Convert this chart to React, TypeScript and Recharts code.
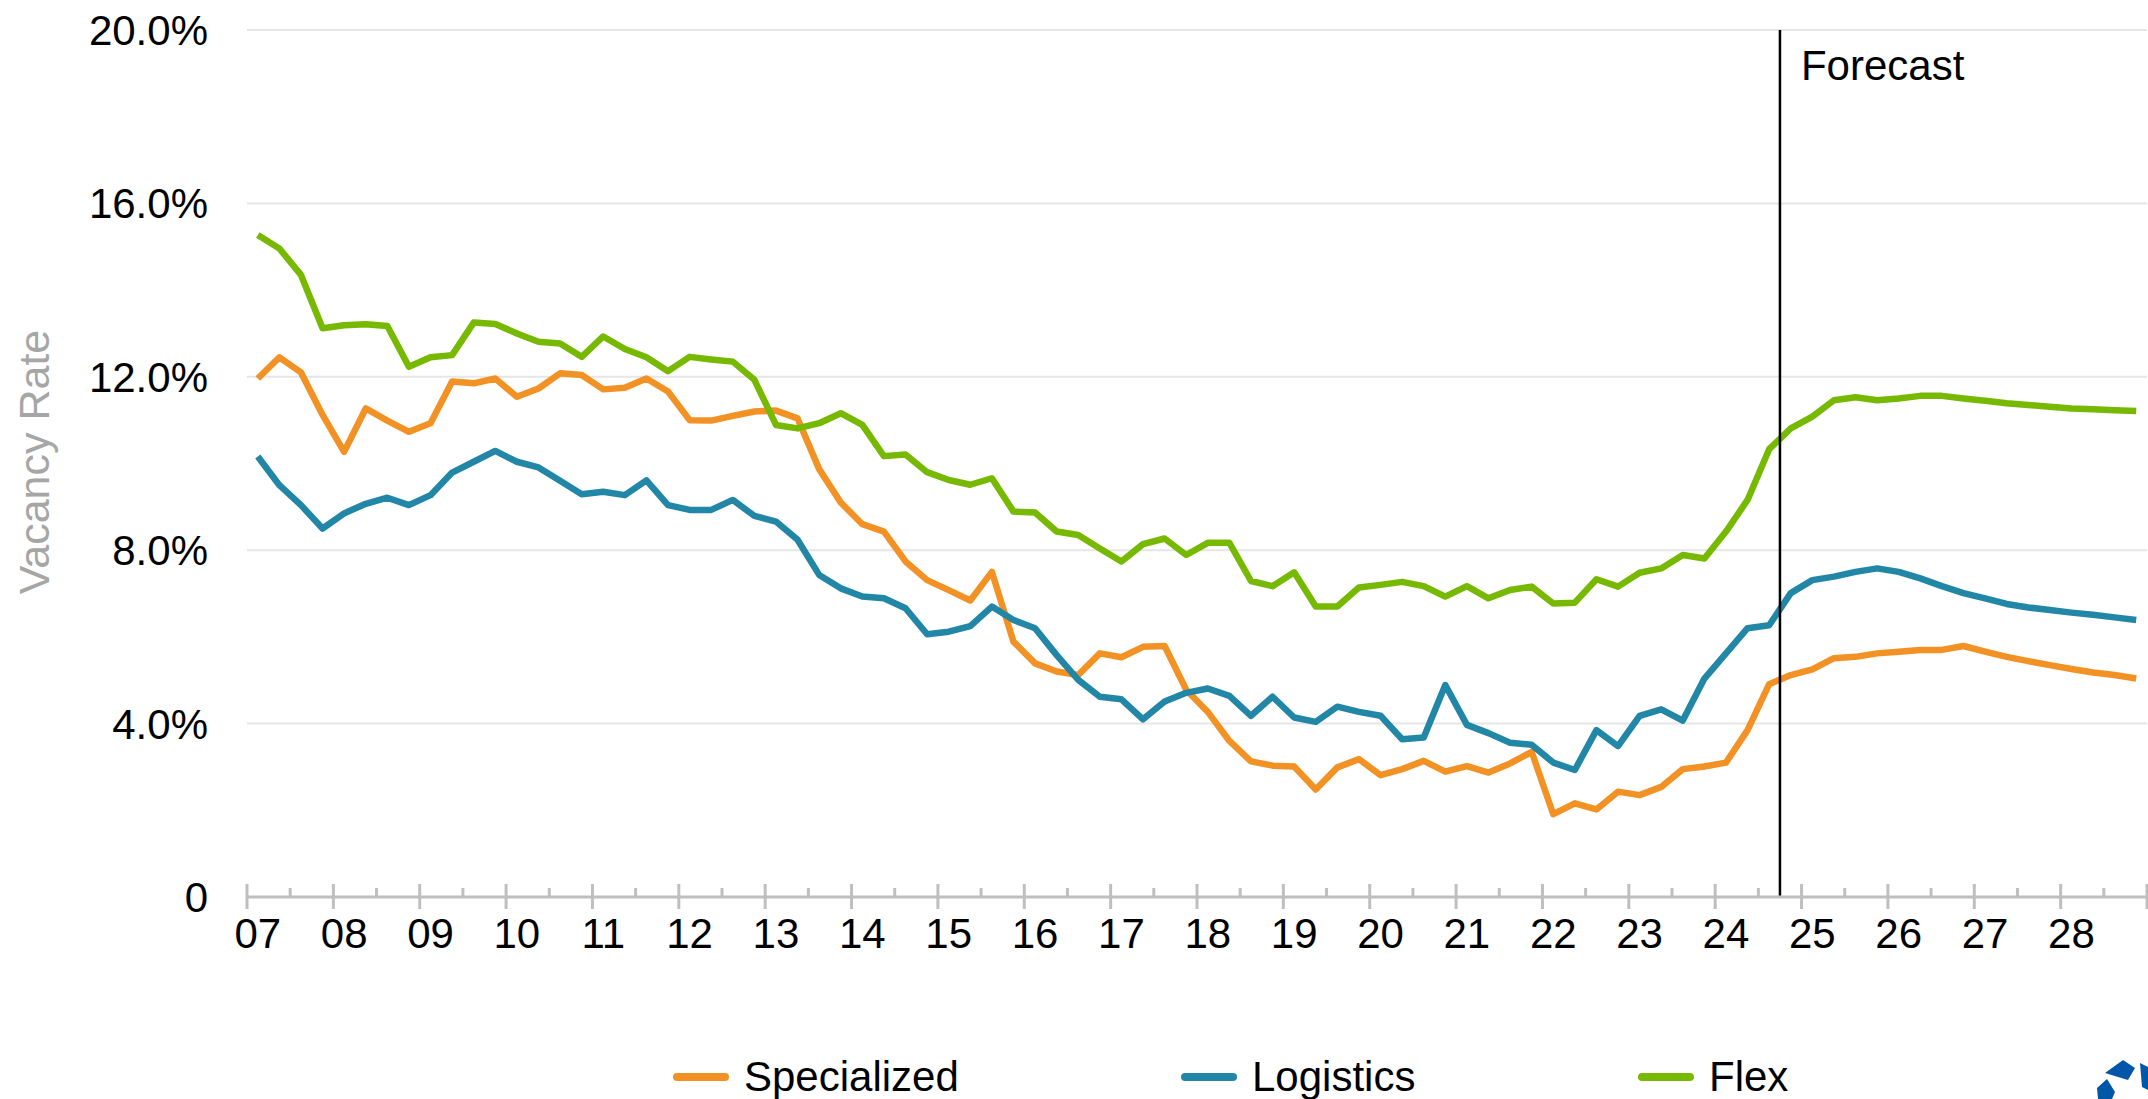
import React from 'react';
import { LineChart, Line, XAxis, YAxis, CartesianGrid, ReferenceLine } from 'recharts';

// quarterly vacancy rates, 2007 Q1 .. 2028 Q4 (forecast from 2024 Q4)
const specialized = [
  11.96, 12.45, 12.10, 11.12, 10.27, 11.27, 10.99, 10.73, 10.93, 11.89, 11.85, 11.96, 11.54, 11.73, 12.08, 12.04,
  11.71, 11.75, 11.96, 11.66, 11.00, 10.99, 11.10, 11.20, 11.22, 11.04, 9.87, 9.10, 8.60, 8.43, 7.74, 7.31,
  7.08, 6.84, 7.50, 5.89, 5.39, 5.20, 5.12, 5.62, 5.53, 5.77, 5.79, 4.78, 4.27, 3.60, 3.13, 3.03,
  3.01, 2.48, 2.99, 3.18, 2.81, 2.95, 3.14, 2.89, 3.02, 2.87, 3.08, 3.35, 1.91, 2.16, 2.02, 2.43,
  2.35, 2.54, 2.95, 3.01, 3.10, 3.85, 4.91, 5.12, 5.25, 5.51, 5.54, 5.62, 5.66, 5.70, 5.70, 5.79,
  5.66, 5.54, 5.44, 5.35, 5.26, 5.18, 5.12, 5.04,
];

const logistics = [
  10.16, 9.50, 9.04, 8.50, 8.85, 9.07, 9.21, 9.04, 9.27, 9.79, 10.04, 10.29, 10.04, 9.91, 9.60, 9.29,
  9.35, 9.27, 9.61, 9.04, 8.93, 8.93, 9.16, 8.79, 8.66, 8.24, 7.43, 7.12, 6.93, 6.89, 6.66, 6.06,
  6.12, 6.25, 6.70, 6.39, 6.20, 5.58, 5.01, 4.62, 4.56, 4.10, 4.51, 4.71, 4.81, 4.64, 4.18, 4.62,
  4.14, 4.04, 4.39, 4.27, 4.18, 3.64, 3.68, 4.89, 3.97, 3.78, 3.56, 3.51, 3.10, 2.93, 3.85, 3.48,
  4.18, 4.33, 4.07, 5.04, 5.62, 6.20, 6.27, 7.01, 7.31, 7.39, 7.50, 7.58, 7.50, 7.35, 7.17, 7.01,
  6.89, 6.76, 6.68, 6.62, 6.56, 6.51, 6.45, 6.39,
];

const flex = [
  15.27, 14.96, 14.35, 13.12, 13.19, 13.21, 13.17, 12.23, 12.45, 12.50, 13.25, 13.22, 13.00, 12.81, 12.77, 12.46,
  12.93, 12.64, 12.45, 12.13, 12.46, 12.40, 12.35, 11.93, 10.89, 10.81, 10.93, 11.16, 10.89, 10.17, 10.21, 9.80,
  9.62, 9.51, 9.66, 8.89, 8.87, 8.43, 8.35, 8.04, 7.74, 8.14, 8.27, 7.89, 8.17, 8.17, 7.29, 7.17,
  7.49, 6.70, 6.70, 7.14, 7.20, 7.27, 7.17, 6.93, 7.17, 6.89, 7.08, 7.16, 6.77, 6.79, 7.33, 7.16,
  7.48, 7.58, 7.89, 7.81, 8.43, 9.16, 10.33, 10.81, 11.08, 11.46, 11.53, 11.46, 11.50, 11.56, 11.56, 11.50,
  11.45, 11.39, 11.35, 11.31, 11.27, 11.25, 11.23, 11.21,
];

const years = ['07', '08', '09', '10', '11', '12', '13', '14', '15', '16', '17', '18', '19', '20', '21', '22', '23', '24', '25', '26', '27', '28'];
const yTicks = [0, 4, 8, 12, 16, 20];
const forecastStart = 71; // quarter index where forecast begins

const series = [
  { key: 'specialized', name: 'Specialized', color: '#F39224' },
  { key: 'logistics', name: 'Logistics', color: '#2287A6' },
  { key: 'flex', name: 'Flex', color: '#76B900' },
];

const data = specialized.map((v, i) => ({
  q: i + 0.5,
  specialized: v,
  logistics: logistics[i],
  flex: flex[i],
}));

const W = 2148;
const H = 1099;
const Y_AXIS_W = 247;
const MARGIN_RIGHT = 1;
const X_AXIS_H = 60;
const NQ = years.length * 4;
const QPX = (W - Y_AXIS_W - MARGIN_RIGHT) / NQ;
const FONT = '"Liberation Sans", Arial, sans-serif';
const FS = 42;
const AXIS_GRAY = '#bfbfbf';
const LEGEND_LEFT = [673, 1181, 1638];

const XTick = (props: any) => {
  const { x, y, payload } = props;
  const v = payload.value;
  const major = v % 4 === 0;
  const label = major && v < NQ ? years[v / 4] : null;
  return (
    <g>
      {major ? (
        <line x1={x} x2={x} y1={y - 13} y2={y + 12} stroke={AXIS_GRAY} strokeWidth={3} />
      ) : (
        <line x1={x} x2={x} y1={y - 9} y2={y} stroke={AXIS_GRAY} strokeWidth={3} />
      )}
      {label && (
        <text x={x + QPX / 2} y={y + 51} textAnchor="middle" fontSize={FS} fill="#000" fontFamily={FONT}>
          {label}
        </text>
      )}
    </g>
  );
};

const xTicks = Array.from({ length: NQ / 2 + 1 }, (_, i) => i * 2);

const App: React.FC = () => {
  return (
    <div style={{ position: 'absolute', left: 0, top: 0, width: W, height: H, background: '#fff', fontFamily: FONT }}>
      <LineChart
        width={W}
        height={H}
        data={data}
        margin={{ top: 30, right: MARGIN_RIGHT, bottom: H - 897 - X_AXIS_H, left: 0 }}
      >
        <CartesianGrid vertical={false} stroke="#e6e6e6" strokeWidth={2} />
        <XAxis
          type="number"
          dataKey="q"
          domain={[0, NQ]}
          ticks={xTicks}
          interval={0}
          height={X_AXIS_H}
          tickSize={0}
          tickMargin={0}
          tickLine={false}
          axisLine={{ stroke: AXIS_GRAY, strokeWidth: 3 }}
          tick={<XTick />}
        />
        <YAxis
          domain={[0, 20]}
          ticks={yTicks}
          width={Y_AXIS_W}
          axisLine={false}
          tickLine={false}
          tickSize={0}
          tickMargin={39}
          tick={{ fill: '#000', fontSize: FS, fontFamily: FONT }}
          tickFormatter={(v: number) => (v === 0 ? '0' : `${v.toFixed(1)}%`)}
          label={{
            content: () => (
              <text
                x={49}
                y={462}
                transform="rotate(-90 49 462)"
                textAnchor="middle"
                fill="#a6a6a6"
                fontSize={43}
                fontFamily={FONT}
              >
                Vacancy Rate
              </text>
            ),
          }}
        />
        {series.map((s) => (
          <Line
            key={s.key}
            type="linear"
            dataKey={s.key}
            name={s.name}
            stroke={s.color}
            strokeWidth={6.5}
            strokeLinejoin="round"
            dot={false}
            activeDot={false}
            isAnimationActive={false}
          />
        ))}
        <ReferenceLine
          x={forecastStart}
          stroke="#000"
          strokeWidth={2.5}
          label={{
            content: (p: any) => (
              <text x={p.viewBox.x + 21} y={p.viewBox.y + 50} fontSize={FS} fill="#000" fontFamily={FONT}>
                Forecast
              </text>
            ),
          }}
        />
      </LineChart>

      {series.map((s, i) => (
        <div
          key={s.key}
          style={{ position: 'absolute', left: LEGEND_LEFT[i], top: 1056, height: 42, display: 'flex', alignItems: 'center' }}
        >
          <span style={{ display: 'inline-block', width: 56, height: 8, borderRadius: 4, background: s.color, marginRight: 15 }} />
          <span style={{ fontSize: FS, lineHeight: '42px', color: '#000', whiteSpace: 'nowrap' }}>{s.name}</span>
        </div>
      ))}

      <svg style={{ position: 'absolute', left: 2050, top: 1020 }} width={98} height={79}>
        <polygon points="55,53 73,40 85,48 78,60" fill="#0057A8" />
        <polygon points="47,68 57,59 65,72 62,79 48,79" fill="#0057A8" />
        <polygon points="90,43 98,47 98,70 92,67" fill="#0057A8" />
      </svg>
    </div>
  );
};

export default App;
